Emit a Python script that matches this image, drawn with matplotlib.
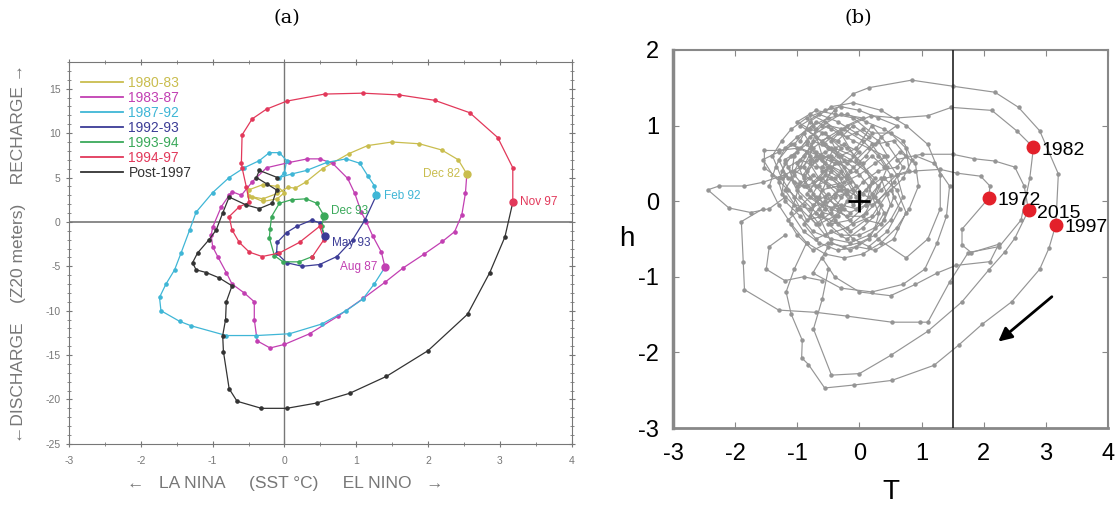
import matplotlib.pyplot as plt
from matplotlib.lines import Line2D
from matplotlib.ticker import MultipleLocator

plt.rcParams['font.family'] = ['Liberation Sans', 'DejaVu Sans']
plt.rcParams['axes.unicode_minus'] = False

# ---------------- panel (a): recharge oscillator by epoch ----------------
labels_a = ["1980-83", "1983-87", "1987-92", "1992-93", "1993-94", "1994-97", "Post-1997"]
colors_a = ["#c9bd4e", "#c23fb2", "#3fb6d6", "#3c3c96", "#3aa95a", "#e2385a", "#333333"]

y8083 = [(-0.45, 2.8), (-0.3, 2.3), (-0.1, 2.6), (0.0, 3.3), (-0.1, 4.0), (-0.3, 4.2), (-0.5, 3.6),
         (-0.5, 2.9), (-0.3, 2.6), (-0.1, 3.2), (0.05, 3.9), (0.15, 3.8), (0.3, 4.5), (0.53, 6.0),
         (0.9, 7.7), (1.16, 8.6), (1.5, 9.0), (1.88, 8.8), (2.19, 8.1), (2.42, 7.0), (2.54, 5.4)]
y8387 = [(2.54, 5.4), (2.52, 3.2), (2.47, 0.8), (2.37, -1.1), (2.2, -2.2), (1.95, -3.6), (1.65, -5.2),
         (1.4, -6.8), (1.1, -8.6), (0.75, -10.6), (0.35, -12.6), (0.0, -13.8), (-0.2, -14.2),
         (-0.38, -13.4), (-0.42, -11.0), (-0.42, -9.0), (-0.56, -8.0), (-0.73, -7.0), (-0.81, -5.7),
         (-0.93, -3.9), (-1.0, -2.8), (-1.02, -1.5), (-1.0, -0.6), (-0.88, 1.7), (-0.77, 3.0),
         (-0.73, 3.4), (-0.6, 3.0), (-0.45, 4.5), (-0.25, 6.1), (0.07, 6.7), (0.32, 7.1), (0.49, 7.1),
         (0.67, 6.6), (0.88, 4.9), (0.98, 3.2), (1.07, 1.1), (1.14, 0.0), (1.23, -1.6), (1.35, -3.4),
         (1.4, -5.1)]
y8792 = [(1.4, -5.1), (1.25, -7.0), (1.09, -8.7), (0.86, -10.0), (0.52, -11.5), (0.07, -12.6),
         (-0.39, -12.8), (-0.81, -12.8), (-1.3, -11.7), (-1.46, -11.2), (-1.72, -10.0), (-1.74, -8.5),
         (-1.65, -7.0), (-1.53, -5.4), (-1.44, -3.5), (-1.32, -0.9), (-1.23, 1.1), (-1.0, 3.3),
         (-0.77, 5.0), (-0.56, 6.1), (-0.35, 6.9), (-0.21, 7.8), (-0.07, 7.8), (0.03, 6.9), (0.0, 5.5),
         (-0.07, 5.0), (0.1, 5.4), (0.31, 5.8), (0.59, 6.7), (0.86, 7.1), (1.05, 6.6), (1.16, 5.2),
         (1.25, 4.1), (1.28, 3.0)]
y9293 = [(1.28, 3.0), (1.12, 0.2), (0.95, -2.0), (0.73, -3.9), (0.49, -4.8), (0.25, -5.0), (0.03, -4.6),
         (-0.11, -3.5), (-0.1, -2.3), (0.03, -1.2), (0.17, -0.5), (0.38, 0.2), (0.49, -0.1), (0.56, -1.6)]
y9394 = [(0.56, -1.6), (0.52, -0.5), (0.55, 0.7), (0.45, 2.1), (0.3, 2.6), (0.1, 2.5), (-0.07, 2.1),
         (-0.18, 0.6), (-0.2, -0.8), (-0.21, -1.8), (-0.14, -3.8), (-0.02, -4.5), (0.2, -4.5), (0.39, -3.9)]
y9497 = [(0.39, -3.9), (0.55, -2.0), (0.49, -0.5), (0.21, -2.3), (-0.07, -3.5), (-0.31, -3.9),
         (-0.49, -3.4), (-0.63, -2.3), (-0.73, -0.9), (-0.77, 0.6), (-0.63, 1.7), (-0.49, 2.2),
         (-0.53, 3.9), (-0.59, 6.1), (-0.6, 6.6), (-0.59, 9.8), (-0.45, 11.6), (-0.25, 12.7),
         (0.03, 13.6), (0.56, 14.4), (1.09, 14.5), (1.6, 14.3), (2.09, 13.7), (2.58, 12.3), (2.97, 9.5),
         (3.18, 6.1), (3.18, 2.2)]
ypost = [(3.18, 2.2), (3.07, -1.7), (2.86, -5.7), (2.55, -10.4), (2.0, -14.5), (1.42, -17.4),
         (0.91, -19.3), (0.45, -20.4), (0.03, -21.0), (-0.32, -21.0), (-0.66, -20.2), (-0.77, -18.8),
         (-0.85, -14.6), (-0.86, -12.8), (-0.82, -11.0), (-0.81, -9.0), (-0.73, -7.2), (-0.91, -6.3),
         (-1.09, -5.7), (-1.23, -5.4), (-1.28, -4.6), (-1.21, -3.5), (-1.05, -2.0), (-0.95, -0.9),
         (-0.86, 1.0), (-0.77, 2.8), (-0.53, 1.9), (-0.35, 1.5), (-0.17, 2.1), (-0.11, 3.6),
         (-0.25, 4.3), (-0.39, 5.0), (-0.35, 5.8), (-0.1, 5.0)]
series_a = [y8083, y8387, y8792, y9293, y9394, y9497, ypost]

# labelled months: text, marker x, marker y, colour index, text x, text y, alignment
events_a = [("Dec 82", 2.54, 5.4, 0, 2.44, 5.4, "right"), ("Aug 87", 1.4, -5.1, 1, 1.3, -5.1, "right"),
            ("Feb 92", 1.28, 3.0, 2, 1.38, 2.9, "left"), ("May 93", 0.56, -1.6, 3, 0.66, -2.4, "left"),
            ("Dec 93", 0.55, 0.7, 4, 0.65, 1.2, "left"), ("Nov 97", 3.18, 2.2, 5, 3.28, 2.2, "left")]

# ---------------- panel (b): T-h phase space ----------------
tangle = [(-0.2, 0.1), (-0.45, 0.3), (-0.7, 0.2), (-0.9, 0.45), (-0.75, 0.7), (-0.5, 0.85), (-0.2, 0.7),
          (0.05, 0.5), (0.2, 0.25), (0.1, -0.05), (-0.15, -0.25), (-0.45, -0.3), (-0.7, -0.15),
          (-0.95, 0.05), (-1.1, 0.3), (-1.05, 0.6), (-0.8, 0.85), (-0.5, 1.0), (-0.25, 0.95), (0.05, 0.8),
          (0.3, 0.6), (0.5, 0.35), (0.55, 0.05), (0.4, -0.25), (0.15, -0.45), (-0.15, -0.55),
          (-0.45, -0.5), (-0.75, -0.4), (-0.95, -0.2), (-1.2, 0.0), (-1.3, 0.25), (-1.2, 0.5),
          (-0.95, 0.7), (-0.65, 0.6), (-0.4, 0.5), (-0.55, 0.25), (-0.3, 0.05), (-0.05, 0.2),
          (-0.25, 0.45), (-0.5, 0.6), (-0.8, 0.5), (-0.65, 0.3), (-0.85, 0.1), (-0.6, -0.05),
          (-0.35, -0.1), (-0.1, -0.3), (0.2, -0.2), (0.45, 0.1), (0.7, 0.3), (0.85, 0.55), (0.7, 0.8),
          (0.4, 0.95), (0.1, 1.05), (-0.2, 1.15), (-0.5, 1.1), (-0.75, 1.0), (-1.0, 0.85), (-1.2, 0.7),
          (-1.35, 0.45), (-1.45, 0.2), (-1.3, -0.05), (-1.1, -0.3), (-0.85, -0.55), (-0.55, -0.7),
          (-0.25, -0.75), (0.05, -0.7), (0.35, -0.55), (0.6, -0.35), (0.8, -0.1), (0.95, 0.2),
          (0.9, 0.5), (0.65, 0.65), (0.4, 0.45), (0.2, 0.6), (-0.05, 0.4), (-0.3, 0.3), (-0.6, 0.45),
          (-0.4, 0.7), (-0.1, 0.6), (0.15, 0.85), (-0.1, 1.0), (-0.35, 0.8), (-0.6, 0.9), (-0.9, 0.6),
          (-1.05, 0.4), (-0.8, 0.3), (-1.0, 0.15), (-0.75, -0.05), (-0.5, 0.1), (-0.25, -0.1),
          (-0.5, -0.3), (-0.3, -0.45), (0.0, -0.45), (0.25, -0.35), (0.35, -0.05), (0.2, 0.1),
          (0.4, 0.3), (0.6, 0.15), (0.75, -0.15), (0.55, -0.5), (0.25, -0.65), (-0.05, -0.6),
          (-0.35, -0.65), (-0.65, -0.55), (-0.9, -0.4), (-1.1, -0.15), (-0.95, 0.25), (-1.15, 0.45),
          (-0.95, 0.55), (-0.7, 0.45), (-0.45, 0.45), (-0.2, 0.3), (0.0, 0.05), (-0.35, 0.2),
          (-0.6, 0.15), (-0.8, -0.2), (-0.55, -0.45), (-0.2, -0.35), (0.1, -0.15), (0.3, 0.2),
          (0.1, 0.4), (-0.15, 0.55), (-0.45, 0.7), (-0.7, 0.85), (-0.95, 1.0), (-0.65, 1.15),
          (-0.35, 1.05), (-0.05, 0.9), (0.25, 0.75), (0.55, 0.8), (0.75, 0.6), (0.6, 0.45), (0.3, 0.4),
          (0.05, 0.25), (-0.2, 0.0), (-0.4, -0.2), (-0.65, -0.3), (-0.9, -0.05), (-1.15, 0.15),
          (-1.4, 0.35), (-1.55, 0.55), (-1.3, 0.65), (-1.05, 0.75), (-0.85, 0.95), (-0.55, 0.75),
          (-0.3, 0.6), (-0.05, 0.7), (0.2, 1.0), (0.45, 0.75), (0.7, 0.45), (0.55, 0.25), (0.3, 0.0),
          (0.05, -0.2), (-0.2, -0.2), (-0.45, -0.1), (-0.7, 0.05), (-0.9, 0.3), (-0.7, 0.55),
          (-0.45, 0.6), (-0.15, 0.4), (0.1, 0.6), (0.35, 0.85), (0.6, 1.0), (0.3, 1.1), (0.0, 1.2),
          (-0.3, 1.25), (-0.55, 1.2), (-0.85, 1.1), (-1.1, 0.95), (-1.25, 0.8), (-1.4, 0.6),
          (-1.25, 0.3), (-1.05, 0.05), (-0.85, -0.25), (-0.6, -0.2), (-0.35, -0.3), (-0.1, -0.5),
          (0.15, -0.6), (0.45, -0.4), (0.65, -0.1), (0.5, 0.15), (0.2, -0.05), (-0.05, 0.05),
          (-0.3, 0.4), (-0.55, 0.5), (-0.8, 0.7), (-1.0, 0.5), (-0.85, 0.2), (-0.6, 0.3), (-0.35, 0.15)]
tangle2 = [(-0.3, 0.2), (-0.55, 0.35), (-0.75, 0.1), (-0.6, -0.15), (-0.35, -0.2), (-0.15, 0.05),
           (-0.35, 0.35), (-0.6, 0.55), (-0.85, 0.75), (-1.1, 0.6), (-1.25, 0.4), (-1.0, 0.2),
           (-0.75, 0.35), (-0.5, 0.2), (-0.25, 0.25), (0.0, 0.35), (0.25, 0.5), (0.45, 0.6), (0.3, 0.8),
           (0.05, 0.95), (-0.2, 0.85), (-0.45, 0.95), (-0.7, 1.05), (-0.9, 0.9), (-0.7, 0.65),
           (-0.45, 0.55), (-0.2, 0.5), (0.0, 0.65), (-0.25, 0.75), (-0.55, 0.65), (-0.8, 0.55),
           (-1.05, 0.35), (-1.2, 0.15), (-1.0, -0.1), (-0.8, 0.05), (-0.55, -0.1), (-0.3, -0.05),
           (-0.05, -0.1), (0.15, 0.05), (-0.1, 0.15), (-0.4, 0.05), (-0.65, -0.1), (-0.9, -0.3),
           (-0.7, -0.5), (-0.45, -0.4), (-0.2, -0.5), (0.05, -0.35), (0.3, -0.15), (0.15, 0.2),
           (-0.1, 0.45), (-0.35, 0.6), (-0.6, 0.75), (-0.35, 0.9), (-0.1, 0.8), (0.15, 0.7), (0.4, 0.6),
           (0.6, 0.35), (0.35, 0.15), (0.1, -0.05), (-0.15, -0.15), (-0.4, -0.05), (-0.65, 0.2),
           (-0.9, 0.2), (-1.15, 0.3), (-1.3, 0.55), (-1.1, 0.75), (-0.85, 0.65), (-0.6, 0.4),
           (-0.4, 0.3), (-0.2, 0.15), (-0.45, -0.15), (-0.7, -0.3), (-0.95, -0.1), (-1.15, -0.25),
           (-1.0, -0.45), (-0.75, -0.65), (-0.5, -0.55), (-0.25, -0.6), (0.0, -0.55), (0.25, -0.45),
           (0.5, -0.25), (0.7, 0.05), (0.6, 0.35), (0.8, 0.4), (0.75, 0.7), (0.5, 0.9), (0.2, 0.9),
           (-0.1, 1.1), (-0.4, 1.15), (-0.7, 1.2), (-1.0, 1.05), (-0.8, 0.95), (-0.55, 0.9), (-0.3, 0.7),
           (-0.5, 0.45), (-0.75, 0.25), (-0.55, 0.05), (-0.3, -0.1)]
tangle3 = [(-0.9, 0.35), (-0.7, 0.6), (-0.45, 0.4), (-0.65, 0.05), (-0.4, -0.25), (-0.15, -0.4),
           (0.1, -0.25), (0.35, -0.3), (0.5, -0.05), (0.35, 0.3), (0.1, 0.15), (-0.1, -0.05),
           (-0.3, 0.15), (-0.55, 0.0), (-0.8, -0.1), (-1.05, -0.05), (-1.25, 0.1), (-1.2, 0.35),
           (-0.95, 0.45), (-0.75, 0.8), (-0.5, 0.7), (-0.25, 0.55), (0.0, 0.5), (0.25, 0.3),
           (0.05, 0.1), (-0.2, 0.35), (-0.45, 0.8), (-0.2, 1.0), (0.05, 1.1), (-0.3, 1.15),
           (-0.6, 1.0), (-0.85, 0.8), (-1.0, 0.65), (-1.2, 0.55), (-1.05, 0.25), (-0.8, 0.15),
           (-0.55, 0.4), (-0.35, 0.5), (-0.15, 0.25), (-0.4, 0.1), (-0.65, -0.2), (-0.45, -0.55),
           (-0.15, -0.65), (0.15, -0.5), (0.4, -0.15), (0.25, 0.05), (0.45, 0.45), (0.2, 0.75),
           (-0.05, 0.55), (-0.3, 0.9), (-0.55, 1.05), (-0.8, 1.15), (-0.6, 0.6), (-0.85, 0.4)]
tail = [(-1.2, 0.35), (-1.55, 0.25), (-1.85, 0.2), (-2.26, 0.2), (-2.44, 0.15), (-2.1, -0.09),
        (-1.75, -0.15), (-1.45, -0.1), (-1.2, 0.05)]
branch = [(-1.0, 0.7), (-1.3, 0.67), (-1.53, 0.67), (-1.53, 0.44), (-1.3, 0.3)]
loop97 = [(-0.8, 0.6), (-0.7, 0.95), (-0.4, 1.2), (-0.1, 1.42), (0.15, 1.5), (0.84, 1.6), (1.5, 1.52),
          (2.18, 1.44), (2.56, 1.24), (2.9, 0.93), (3.2, 0.36), (3.16, -0.31), (3.05, -0.62),
          (2.9, -0.9), (2.45, -1.33), (1.97, -1.63), (1.6, -1.9), (1.2, -2.17), (0.52, -2.37),
          (-0.08, -2.43), (-0.56, -2.47), (-0.82, -2.16), (-0.93, -2.07), (-0.92, -1.84),
          (-1.1, -1.49), (-1.18, -1.2), (-1.05, -0.9), (-0.85, -0.55)]
loop82 = [(-0.6, 0.8), (-0.3, 0.95), (0.19, 1.13), (0.6, 1.1), (1.1, 1.13), (1.48, 1.24), (2.13, 1.2),
          (2.53, 0.93), (2.8, 0.71), (2.74, 0.3), (2.6, -0.25), (2.25, -0.6), (1.75, -0.68),
          (1.45, -1.07), (1.1, -1.6), (0.97, -1.6), (0.52, -1.6), (-0.2, -1.52), (-0.7, -1.47),
          (-1.3, -1.44), (-1.85, -1.17), (-1.87, -0.8), (-1.9, -0.27), (-1.55, -0.1)]
loop15 = [(0.6, 0.55), (1.0, 0.62), (1.5, 0.62), (1.85, 0.56), (2.18, 0.53), (2.5, 0.45), (2.65, 0.2),
          (2.72, -0.12), (2.5, -0.49), (2.34, -0.67), (2.08, -0.91), (1.65, -1.33), (1.1, -1.72),
          (0.5, -2.04), (0.0, -2.28), (-0.45, -2.3), (-0.74, -1.69), (-0.6, -1.3), (-0.5, -0.9)]
loop72 = [(0.4, 0.3), (0.9, 0.4), (1.3, 0.42), (1.57, 0.37), (1.95, 0.33), (2.1, 0.2), (2.08, 0.04),
          (1.65, -0.37), (1.65, -0.58), (1.8, -0.68), (2.24, -0.57), (2.1, -0.8), (1.55, -0.85),
          (1.25, -0.95), (0.9, -1.1), (0.5, -1.25), (0.0, -1.2), (-0.4, -1.0), (-0.6, -0.75)]
mid1 = [(0.3, -0.5), (0.75, -0.75), (1.1, -0.5), (1.3, -0.1), (1.3, 0.35), (1.1, 0.75), (0.75, 1.0),
        (0.35, 1.2), (-0.1, 1.3), (-0.45, 1.25), (-0.8, 1.05), (-0.95, 0.8)]
mid2 = [(-0.5, -0.6), (-0.75, -0.95), (-0.3, -1.15), (0.2, -1.2), (0.7, -1.1), (1.05, -0.9),
        (1.25, -0.55), (1.4, -0.2), (1.45, 0.2), (1.2, 0.5), (0.9, 0.6)]
mid3 = [(-1.2, -0.45), (-1.45, -0.6), (-1.5, -0.9), (-1.2, -1.05), (-0.9, -1.0), (-0.6, -1.05)]
paths_b = [tangle, tangle2, tangle3, tail, branch, loop97, loop82, loop15, loop72, mid1, mid2, mid3]

years = ["1982", "1972", "2015", "1997"]
year_T = [2.8, 2.08, 2.72, 3.16]
year_h = [0.71, 0.04, -0.12, -0.31]

fig = plt.figure(figsize=(11.17, 5.09), dpi=100)

# ---------- (a) ----------
ax = fig.add_axes([0.0618, 0.128, 0.450, 0.750])
ax.axhline(0, color="#777777", lw=1.2, zorder=1)
ax.axvline(0, color="#777777", lw=1.0, zorder=1)
for pts, c in zip(series_a, colors_a):
    xs = [p[0] for p in pts]
    ys = [p[1] for p in pts]
    ax.plot(xs, ys, color=c, lw=0.9, marker="o", ms=2.3, zorder=3)
for txt, ex, ey, ci, tx, ty, ha in events_a:
    ax.plot(ex, ey, "o", color=colors_a[ci], ms=5, zorder=4)
    ax.text(tx, ty, txt, color=colors_a[ci], fontsize=8.5, ha=ha, va="center", zorder=5)
ax.set_xlim(-3, 4)
ax.set_ylim(-25, 18)
ax.xaxis.set_major_locator(MultipleLocator(1))
ax.xaxis.set_minor_locator(MultipleLocator(0.5))
ax.yaxis.set_major_locator(MultipleLocator(5))
ax.yaxis.set_minor_locator(MultipleLocator(1))
ax.tick_params(which="both", direction="inout", top=True, right=True, labeltop=False,
               labelright=False, colors="#777777", labelsize=7.5, length=5)
ax.tick_params(which="minor", length=3)
ax.tick_params(axis="x", pad=6)
for s in ax.spines.values():
    s.set_color("#777777")
ax.set_xlabel("\u2190   LA NINA     (SST \u00b0C)     EL NINO   \u2192", color="#777777", fontsize=12.5)
ax.xaxis.set_label_coords(0.43, -0.085)
ax.set_ylabel("\u2190DISCHARGE    (Z20 meters)    RECHARGE \u2192", color="#777777", fontsize=12.5)
ax.yaxis.set_label_coords(-0.085, 0.5)
handles = [Line2D([], [], color=c, lw=1.3) for c in colors_a]
leg = ax.legend(handles, labels_a, loc="upper left", frameon=False, fontsize=10, handlelength=3.0,
                labelspacing=0.08, handletextpad=0.4, borderaxespad=0.3, bbox_to_anchor=(0.005, 0.99))
for t, c in zip(leg.get_texts(), colors_a):
    t.set_color(c)
fig.text(0.257, 0.965, "(a)", fontsize=14, family="DejaVu Serif", ha="center", va="center")

# ---------- (b) ----------
bx = fig.add_axes([0.6025, 0.159, 0.3895, 0.743])
for pts in paths_b:
    xs = [p[0] for p in pts]
    ys = [p[1] for p in pts]
    bx.plot(xs, ys, color="#959595", lw=0.85, marker="o", ms=2.2, zorder=2)
bx.axvline(1.5, color="#222222", lw=1.2, zorder=3)
bx.plot(0, 0, marker="+", color="black", ms=16, mew=2, zorder=5)
bx.plot(year_T, year_h, "o", color="#e3202a", ms=9, zorder=6, ls="none")
for lab, t, h in zip(years, year_T, year_h):
    bx.annotate(lab, (t, h), xytext=(6, -2), textcoords="offset points", fontsize=14,
                ha="left", va="center", zorder=7)
bx.annotate("", xy=(2.2, -1.88), xytext=(3.13, -1.24),
            arrowprops=dict(arrowstyle="-|>", lw=2, color="black", mutation_scale=20), zorder=7)
bx.set_xlim(-3, 4)
bx.set_ylim(-3, 2)
bx.set_xticks(range(-3, 5))
bx.set_yticks(range(-3, 3))
bx.tick_params(direction="in", top=True, right=True, color="#888888", labelsize=17, length=4)
bx.tick_params(axis="x", pad=11)
bx.tick_params(axis="y", pad=10)
for s in ["top", "right"]:
    bx.spines[s].set_color("#888888")
    bx.spines[s].set_linewidth(1.5)
bx.spines["left"].set_color("#888888")
bx.spines["left"].set_linewidth(2.5)
bx.spines["bottom"].set_color("#888888")
bx.spines["bottom"].set_linewidth(2)
bx.set_xlabel("T", fontsize=20, labelpad=10)
bx.set_ylabel("h", fontsize=20, rotation=0, labelpad=8, va="center")
fig.text(0.768, 0.965, "(b)", fontsize=14, family="DejaVu Serif", ha="center", va="center")

fig.savefig("out.png", dpi=100)
